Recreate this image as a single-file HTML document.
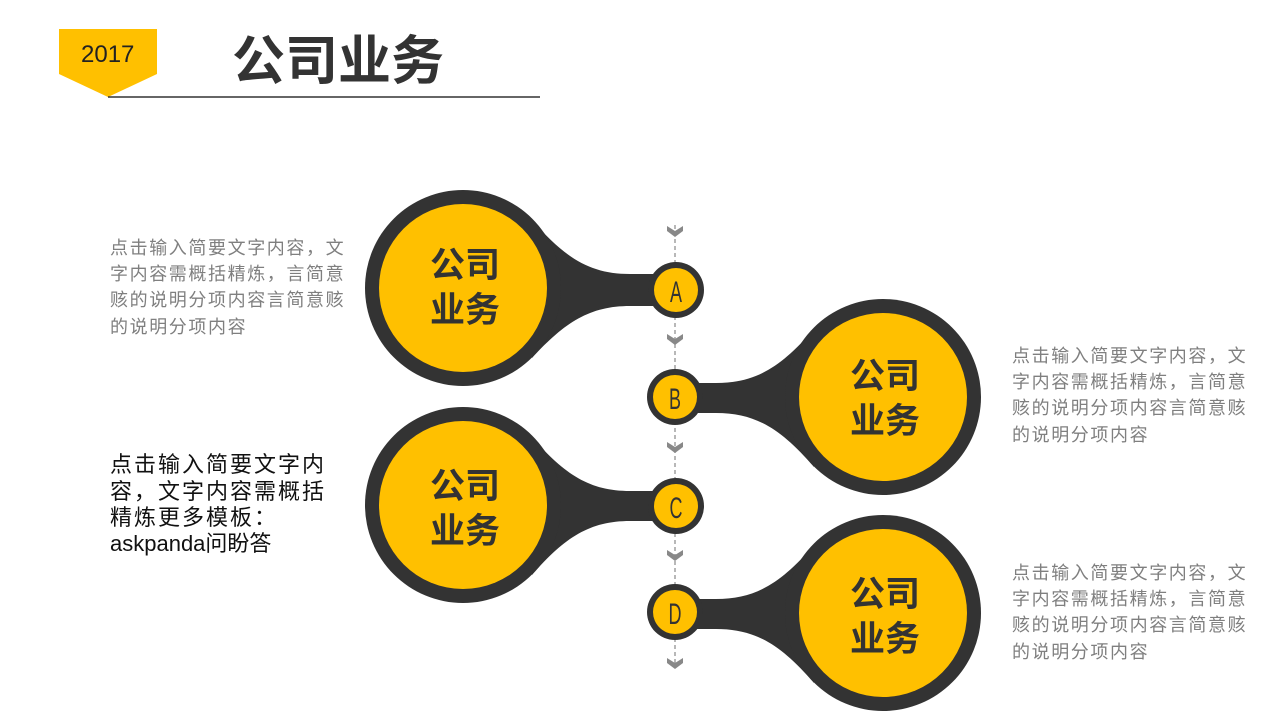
<!DOCTYPE html>
<html><head><meta charset="utf-8"><style>
html,body{margin:0;padding:0;background:#fff;}
svg{display:block;}
.t{font-family:"Liberation Sans","Noto Sans CJK SC",sans-serif;}
.g{fill:#7f7f7f;font-size:18px;letter-spacing:1.6px;}
.big{fill:#333;font-size:35px;font-weight:bold;}
.let{fill:#333;font-size:30px;font-family:"Liberation Sans Narrow","Liberation Sans",sans-serif;}
</style></head><body>
<svg width="1280" height="720" viewBox="0 0 1280 720" xmlns="http://www.w3.org/2000/svg">
<polygon points="59,29 157,29 157,74 108,97 59,74" fill="#ffc000"/>
<text x="81" y="62" class="t" font-size="24" fill="#222">2017</text>
<text x="232" y="79" class="t" font-size="53" font-weight="bold" fill="#333">公司业务</text>
<line x1="108" y1="97" x2="540" y2="97" stroke="#333" stroke-width="1.5"/>

<line x1="675" y1="225" x2="675" y2="668" stroke="#888" stroke-width="1.2" stroke-dasharray="4,3"/>
<g fill="#888">
<path d="M667,226 L675,231 L683,226 L683,231 L675,237 L667,231Z"/>
<path d="M667,334 L675,339 L683,334 L683,339 L675,345 L667,339Z"/>
<path d="M667,442 L675,447 L683,442 L683,447 L675,453 L667,447Z"/>
<path d="M667,550 L675,555 L683,550 L683,555 L675,561 L667,555Z"/>
<path d="M667,658 L675,663 L683,658 L683,663 L675,669 L667,663Z"/>
</g>

<!-- A -->
<path d="M532,220 C565,258 590,274 630,274 L665,274 L665,306 L630,306 C590,306 565,322 532,358Z" fill="#333"/>
<circle cx="463" cy="288" r="98" fill="#333"/><circle cx="463" cy="288" r="84" fill="#ffc000"/>
<circle cx="676" cy="290" r="28" fill="#333"/><circle cx="676" cy="290" r="22" fill="#ffc000"/>
<text x="465" y="277" text-anchor="middle" class="t big">公司</text>
<text x="465" y="322" text-anchor="middle" class="t big">业务</text>
<text transform="translate(676,302) scale(0.6,1)" text-anchor="middle" class="let">A</text>

<!-- B -->
<path d="M814,329 C781,367 756,383 716,383 L685,383 L685,413 L716,413 C756,413 781,429 814,467Z" fill="#333"/>
<circle cx="883" cy="397" r="98" fill="#333"/><circle cx="883" cy="397" r="84" fill="#ffc000"/>
<circle cx="675" cy="397" r="28" fill="#333"/><circle cx="675" cy="397" r="22" fill="#ffc000"/>
<text x="885" y="388" text-anchor="middle" class="t big">公司</text>
<text x="885" y="433" text-anchor="middle" class="t big">业务</text>
<text transform="translate(675,409) scale(0.6,1)" text-anchor="middle" class="let">B</text>

<!-- C -->
<path d="M532,437 C565,475 590,491 630,491 L665,491 L665,521 L630,521 C590,521 565,537 532,575Z" fill="#333"/>
<circle cx="463" cy="505" r="98" fill="#333"/><circle cx="463" cy="505" r="84" fill="#ffc000"/>
<circle cx="676" cy="506" r="28" fill="#333"/><circle cx="676" cy="506" r="22" fill="#ffc000"/>
<text x="465" y="498" text-anchor="middle" class="t big">公司</text>
<text x="465" y="543" text-anchor="middle" class="t big">业务</text>
<text transform="translate(676,518) scale(0.6,1)" text-anchor="middle" class="let">C</text>

<!-- D -->
<path d="M814,545 C781,583 756,599 716,599 L685,599 L685,629 L716,629 C756,629 781,645 814,683Z" fill="#333"/>
<circle cx="883" cy="613" r="98" fill="#333"/><circle cx="883" cy="613" r="84" fill="#ffc000"/>
<circle cx="675" cy="612" r="28" fill="#333"/><circle cx="675" cy="612" r="22" fill="#ffc000"/>
<text x="885" y="606" text-anchor="middle" class="t big">公司</text>
<text x="885" y="651" text-anchor="middle" class="t big">业务</text>
<text transform="translate(675,624) scale(0.6,1)" text-anchor="middle" class="let">D</text>

<g class="t g">
<text x="110" y="254">点击输入简要文字内容，文</text>
<text x="110" y="280">字内容需概括精炼，言简意</text>
<text x="110" y="306">赅的说明分项内容言简意赅</text>
<text x="110" y="333">的说明分项内容</text>
<text x="1012" y="362">点击输入简要文字内容，文</text>
<text x="1012" y="388">字内容需概括精炼，言简意</text>
<text x="1012" y="414">赅的说明分项内容言简意赅</text>
<text x="1012" y="441">的说明分项内容</text>
<text x="1012" y="579">点击输入简要文字内容，文</text>
<text x="1012" y="605">字内容需概括精炼，言简意</text>
<text x="1012" y="631">赅的说明分项内容言简意赅</text>
<text x="1012" y="658">的说明分项内容</text>
</g>
<g class="t" font-size="22" fill="#111" letter-spacing="2">
<text x="110" y="472">点击输入简要文字内</text>
<text x="110" y="499">容，文字内容需概括</text>
<text x="110" y="525">精炼更多模板：</text>
<text x="110" y="551" letter-spacing="0">askpanda问盼答</text>
</g>
</svg>
</body></html>
